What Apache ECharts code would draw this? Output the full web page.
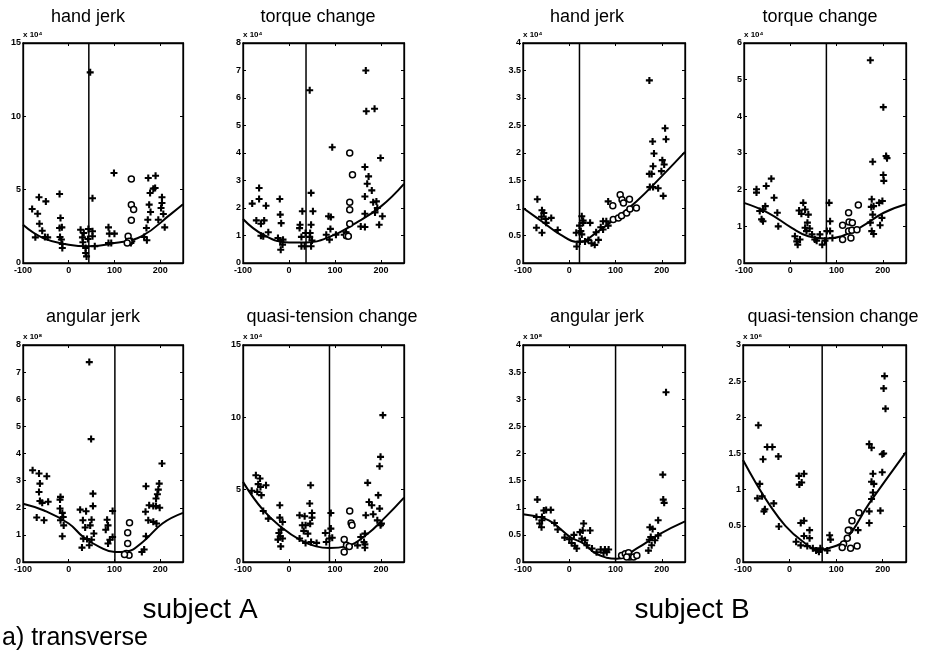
<!DOCTYPE html>
<html>
<head>
<meta charset="utf-8">
<script src="https://cdn.jsdelivr.net/npm/echarts@6/dist/echarts.min.js"></script>
<style>
html,body{margin:0;padding:0;background:#fff;}
#chart{width:928px;height:665px;}
</style>
</head>
<body>
<div id="chart"></div>
<script>
// ---------- DATA ----------
const titles = ['hand jerk','torque change','hand jerk','torque change','angular jerk','quasi-tension change','angular jerk','quasi-tension change'];
const scaleLabels = ['x 10\u2074','x 10\u2074','x 10\u2074','x 10\u2074','x 10\u2078','x 10\u2074','x 10\u2078','x 10\u2076'];
const yMax = [15, 8, 4, 6, 8, 15, 4, 3];
const yStep = [5, 1, 0.5, 1, 1, 5, 0.5, 0.5];
const xMin = -100, xMax = 250, xStep = 100;
const vLineX = [44, 37, 22, 78, 101, 88, 100, 70];
const subjectLabels = ['subject A', 'subject B'];
const caption = 'a) transverse';

// subject A, hand jerk
const aHandPlus = [[-80,3.68],[-65,4.48],[-68,3.36],[-73,1.75],[-64,2.68],[-58,2.2],[-50,4.2],[-52,1.77],[-46,1.75],
 [-20,4.7],[-18,3.07],[-20,2.39],[-15,2.43],[-19,1.77],[-16,1.6],[-14,1.3],[-14,1.02],
 [26,2.27],[30,1.75],[31,1.41],[37,1.02],[37,0.68],[42,1.64],[43,2.32],[33,2.05],[52,2.16],[52,1.82],[52,4.41],[47,13.0],[39,0.45],[57,1.14],
 [87,2.43],[89,2.0],[100,2.0],[87,1.36],[93,1.36],[99,6.14],[131,1.6],[130,1.41],[136,1.36],[138,1.48],
 [165,1.77],[171,1.55],[174,5.8],[190,5.95],[178,4.77],[185,5.07],[189,5.11],[176,3.98],[179,3.48],[173,2.95],[170,2.39],
 [196,2.95],[204,4.48],[202,3.75],[207,3.34],[210,2.43],[204,4.09]];
const aHandCircle = [[137,5.73],[137,3.98],[142,3.64],[137,2.91],[130,1.82],[132,1.48],[128,1.36]];
const aHandCurve = [[-100,2.6],[-56,1.7],[0,1.25],[44,1.14],[100,1.36],[159,1.82],[226,3.4],[250,4.0]];

// subject A, torque change
const aTorquePlus = [[-80,2.16],[-65,2.73],[-71,1.55],[-65,2.33],[-61,1.43],[-54,1.55],[-50,2.08],[-61,0.99],[-56,0.97],[-45,1.12],
 [-20,2.33],[-19,1.76],[-17,1.45],[-24,0.91],[-19,0.82],[-13,0.85],[-18,0.48],[-14,0.67],
 [24,1.39],[23,1.27],[27,0.95],[29,1.88],[36,1.09],[34,0.61],[27,0.61],[45,6.28],[48,2.55],[52,1.88],[48,1.39],[46,1.09],[45,0.95],[50,0.82],[48,0.61],
 [94,4.21],[86,1.7],[91,1.67],[90,1.24],[81,1.03],[88,0.85],[102,1.03],
 [167,7.0],[168,5.52],[186,5.61],[199,3.82],[165,3.49],[173,3.15],[170,2.88],[180,2.64],[165,2.42],[183,2.21],[190,2.24],[192,2.0],[187,1.84],
 [165,1.79],[203,1.7],[196,1.39],[165,1.31],[156,1.33],[124,1.12],[127,1.03],[120,1.03]];
const aTorqueCircle = [[132,4.0],[138,3.21],[132,2.21],[132,1.94],[132,1.43],[125,0.99],[129,0.97]];
const aTorqueCurve = [[-100,1.6],[-56,1.03],[0,0.75],[37,0.75],[88,0.95],[145,1.45],[200,2.06],[250,2.88]];

// subject B, hand jerk
const bHandPlus = [[-69,1.16],[-59,0.96],[-55,0.91],[-60,0.84],[-51,0.8],[-39,0.82],[-50,0.73],[-71,0.64],[-59,0.55],[-25,0.6],
 [173,3.32],[207,2.45],[209,2.25],[180,2.21],[183,1.99],[181,1.76],[173,1.62],[178,1.62],[201,1.87],[205,1.79],[199,1.67],
 [174,1.38],[181,1.38],[192,1.36],[203,1.22],[84,1.12],[73,0.76],[80,0.76],[84,0.68],[68,0.65],[73,0.61],[58,0.56],[45,0.73],
 [30,0.77],[30,0.73],[27,0.85],[22,0.68],[25,0.58],[27,0.52],[34,0.39],[41,0.42],[48,0.36],[55,0.33],[15,0.55],[16,0.3],[23,0.39],[63,0.42]];
const bHandCircle = [[94,1.04],[110,1.24],[114,1.15],[117,1.09],[130,1.16],[95,0.79],[106,0.82],[113,0.86],[124,0.91],[131,0.98],[145,1.0]];
const bHandCurve = [[-100,1.0],[-60,0.76],[-20,0.52],[20,0.38],[60,0.56],[95,0.78],[145,1.12],[200,1.58],[250,2.02]];

// subject B, torque change
const bTorquePlus = [[-73,2.01],[-73,1.92],[-52,2.1],[-41,2.3],[-35,1.78],[-54,1.55],[-59,1.46],[-62,1.19],[-59,1.14],[-26,1.0],[-28,1.37],[-66,1.42],
 [10,0.73],[14,0.59],[16,0.5],[21,0.64],[19,1.43],[24,1.34],[28,1.64],[32,1.46],[32,0.96],[39,1.32],[37,1.1],[35,0.87],[42,0.94],[47,0.78],
 [53,0.64],[57,0.61],[64,0.78],[69,0.5],[75,0.61],[79,0.87],[86,0.87],[84,1.64],[86,1.14],[91,0.68],
 [173,5.53],[201,4.25],[207,2.92],[209,2.86],[178,2.76],[201,2.4],[202,2.24],[176,1.74],[175,1.53],[180,1.55],[178,1.32],
 [192,1.64],[199,1.69],[198,1.23],[173,1.1],[176,0.87],[180,0.79],[194,1.03]];
const bTorqueCircle = [[147,1.58],[126,1.37],[127,1.12],[134,1.1],[113,1.03],[126,0.87],[133,0.89],[144,0.91],[113,0.64],[131,0.68]];
const bTorqueCurve = [[-100,1.64],[-48,1.37],[3,0.96],[39,0.73],[79,0.67],[111,0.73],[155,1.0],[202,1.37],[250,1.6]];

// subject A, angular jerk
const aAngPlus = [[-79,3.38],[-65,3.26],[-48,3.16],[-63,2.89],[-65,2.58],[-63,2.25],[-58,2.18],[-45,2.22],[-70,1.64],[-54,1.54],
 [-18,2.4],[-19,2.3],[-19,1.97],[-14,1.81],[-12,1.66],[-18,1.54],[-11,1.35],[-14,0.95],
 [25,1.93],[38,1.87],[31,1.54],[36,1.27],[32,0.86],[40,0.85],[29,0.53],[45,7.37],[49,4.53],[53,2.52],[53,2.06],[50,1.56],[47,1.35],[55,1.05],[50,0.82],[45,0.62],
 [84,1.56],[86,1.35],[81,1.19],[90,0.82],[86,0.68],[96,1.88],[96,0.92],
 [169,2.79],[168,1.85],[174,1.54],[169,0.95],[165,0.46],[160,0.37],[185,1.48],[176,2.09],[185,2.06],[191,2.06],
 [198,2.89],[196,2.67],[194,2.5],[191,2.34],[199,2.0],[204,3.63],[192,1.42]];
const aAngCircle = [[133,1.45],[129,1.08],[129,0.68],[126,0.31],[132,0.25],[122,0.28]];
const aAngCurve = [[-100,2.15],[-54,1.9],[0,1.42],[32,0.92],[68,0.55],[101,0.37],[126,0.39],[162,0.74],[205,1.42],[250,1.81]];

// subject A, quasi-tension change
const aQuasiPlus = [[-81,4.92],[-72,6.0],[-63,5.77],[-67,5.38],[-62,5.19],[-50,5.31],[-69,4.85],[-60,4.62],[-56,3.53],[-45,3.0],
 [-20,3.92],[-20,3.07],[-14,2.77],[-17,2.24],[-22,2.0],[-19,1.78],[-14,1.62],[-24,1.55],[-18,1.08],
 [23,3.23],[34,3.16],[29,2.54],[36,2.54],[32,2.15],[41,1.96],[23,1.62],[36,1.32],[47,5.31],[45,4.04],[50,3.39],[46,2.65],[50,3.07],[48,1.38],[60,1.32],
 [81,1.38],[79,2.0],[91,3.39],[91,2.31],[88,1.62],[94,1.68],
 [171,5.47],[174,4.15],[180,3.92],[167,3.23],[183,3.3],[204,10.15],[199,7.27],[197,6.62],[194,4.62],[197,3.69],[192,2.88],[199,2.54],[201,2.65],
 [165,1.96],[163,1.38],[165,0.99],[165,1.22],[156,1.73],[149,1.15]];
const aQuasiCircle = [[132,3.53],[135,2.7],[137,2.54],[120,1.55],[125,1.15],[120,0.69],[131,1.08]];
const aQuasiCurve = [[-100,5.54],[-56,3.58],[-13,2.31],[23,1.55],[59,1.08],[88,0.97],[124,1.08],[167,1.85],[210,3.12],[250,4.45]];

// subject B, angular jerk
const bAngPlus = [[-69,1.15],[-59,0.77],[-55,0.95],[-50,0.96],[-40,0.96],[-64,0.71],[-60,0.64],[-59,0.83],[-71,0.83],
 [-32,0.72],[-25,0.6],[-10,0.45],[0,0.42],[5,0.35],[10,0.5],[12,0.3],
 [209,3.13],[202,1.61],[203,1.15],[205,1.09],[192,0.77],[174,0.64],[180,0.61],[176,0.46],[173,0.41],[178,0.31],[171,0.21],[185,0.4],[192,0.49],
 [31,0.71],[29,0.58],[23,0.55],[45,0.58],[27,0.43],[34,0.4],[38,0.31],[16,0.25],[49,0.25],[59,0.18],[68,0.23],[77,0.23],[85,0.23],[81,0.18],[74,0.17]];
const bAngCircle = [[113,0.12],[121,0.15],[128,0.17],[131,0.09],[124,0.09],[139,0.09],[146,0.12]];
const bAngCurve = [[-100,0.88],[-53,0.8],[-32,0.7],[2,0.46],[31,0.34],[59,0.15],[103,0.06],[146,0.25],[196,0.52],[250,0.75]];

// subject B, quasi-tension change
const bQuasiPlus = [[-67,1.89],[-57,1.42],[-48,1.59],[-37,1.59],[-24,1.46],[-64,1.08],[-69,0.88],[-59,0.91],[-53,0.73],[-55,0.7],[-34,0.81],[-23,0.49],
 [20,1.19],[31,1.22],[26,1.1],[21,1.07],[24,0.54],[31,0.57],[31,0.36],[43,0.44],[43,0.33],[14,0.28],[24,0.23],[38,0.22],[50,0.19],[57,0.16],[63,0.14],[66,0.19],[81,0.16],[86,0.37],[88,0.31],
 [171,1.63],[176,1.58],[179,1.22],[176,1.11],[181,1.08],[179,0.96],[176,0.87],[171,0.7],[171,0.54],
 [204,2.57],[202,2.4],[206,2.12],[199,1.49],[202,1.5],[199,1.24],[195,0.71],[147,0.44]];
const bQuasiCircle = [[149,0.68],[134,0.57],[129,0.44],[124,0.33],[116,0.25],[113,0.2],[131,0.19],[145,0.22],[126,0.44]];
const bQuasiCurve = [[-100,1.41],[-73,1.1],[-44,0.8],[-9,0.5],[27,0.29],[63,0.17],[84,0.19],[120,0.31],[170,0.8],[213,1.19],[250,1.52]];

const plusSets = [aHandPlus, aTorquePlus, bHandPlus, bTorquePlus, aAngPlus, aQuasiPlus, bAngPlus, bQuasiPlus];
const circleSets = [aHandCircle, aTorqueCircle, bHandCircle, bTorqueCircle, aAngCircle, aQuasiCircle, bAngCircle, bQuasiCircle];
const curveSets = [aHandCurve, aTorqueCurve, bHandCurve, bTorqueCurve, aAngCurve, aQuasiCurve, bAngCurve, bQuasiCurve];

// ---------- LAYOUT ----------
const grids = [
  {left:23, top:43, width:160, height:220},
  {left:243, top:43, width:161, height:220},
  {left:523, top:43, width:162, height:220},
  {left:744, top:43, width:162, height:220},
  {left:23, top:345, width:160, height:217},
  {left:243, top:345, width:161, height:217},
  {left:523, top:345, width:162, height:217},
  {left:743, top:345, width:163, height:217}
];
const titlePos = [[88,17],[318,17],[587,17],[820,17],[93,317],[332,317],[597,317],[833,317]];

const FONT = '"Liberation Sans", Arial, Helvetica, sans-serif';
const plusPath = 'path://M3.5,0H6.5V3.5H10V6.5H6.5V10H3.5V6.5H0V3.5H3.5Z';

const option = {
  animation: false,
  backgroundColor: '#fff',
  grid: [], xAxis: [], yAxis: [], series: [], graphic: []
};

grids.forEach((g, i) => {
  option.grid.push(Object.assign({show:true, borderColor:'#000', borderWidth:1.3, backgroundColor:'transparent', outerBoundsMode:'none', containLabel:false}, g));
  const tickStyle = {show:true, inside:true, length:3, lineStyle:{color:'#000', width:1}};
  option.xAxis.push({
    type:'value', gridIndex:i, min:xMin, max:xMax, interval:xStep, position:'bottom',
    axisLine:{show:true, onZero:false, lineStyle:{color:'#000', width:1.3}},
    axisTick:tickStyle, splitLine:{show:false},
    axisLabel:{show:true, showMaxLabel:false, color:'#000', fontSize:9, fontWeight:'bold', fontFamily:FONT, margin:3}
  });
  option.xAxis.push({
    type:'value', gridIndex:i, min:xMin, max:xMax, interval:xStep, position:'top',
    axisLine:{show:true, onZero:false, lineStyle:{color:'#000', width:1.3}},
    axisTick:tickStyle, splitLine:{show:false}, axisLabel:{show:false}
  });
  option.yAxis.push({
    type:'value', gridIndex:i, min:0, max:yMax[i], interval:yStep[i], position:'left',
    name: scaleLabels[i], nameLocation:'end', nameGap:2,
    nameTextStyle:{color:'#000', fontSize:8, fontFamily:FONT, align:'left', fontWeight:'bold'},
    axisLine:{show:true, onZero:false, lineStyle:{color:'#000', width:1.3}},
    axisTick:tickStyle, splitLine:{show:false},
    axisLabel:{show:true, color:'#000', fontSize:9, fontWeight:'bold', fontFamily:FONT, margin:2}
  });
  option.yAxis.push({
    type:'value', gridIndex:i, min:0, max:yMax[i], interval:yStep[i], position:'right',
    axisLine:{show:true, onZero:false, lineStyle:{color:'#000', width:1.3}},
    axisTick:tickStyle, splitLine:{show:false}, axisLabel:{show:false}
  });
  const xi = 2*i, yi = 2*i;
  option.series.push({
    type:'line', xAxisIndex:xi, yAxisIndex:yi, data:[[vLineX[i],0],[vLineX[i],yMax[i]]],
    showSymbol:false, symbol:'none', lineStyle:{color:'#000', width:1.5}, silent:true, z:2
  });
  option.series.push({
    type:'line', xAxisIndex:xi, yAxisIndex:yi, data:curveSets[i], smooth:0.45,
    showSymbol:false, symbol:'none', lineStyle:{color:'#000', width:2}, silent:true, z:3
  });
  option.series.push({
    type:'scatter', xAxisIndex:xi, yAxisIndex:yi, data:plusSets[i],
    symbol:plusPath, symbolSize:7, itemStyle:{color:'#000', opacity:1}, silent:true, z:4
  });
  option.series.push({
    type:'scatter', xAxisIndex:xi, yAxisIndex:yi, data:circleSets[i],
    symbol:'circle', symbolSize:6, itemStyle:{color:'#fff', borderColor:'#000', borderWidth:1.5, opacity:1}, silent:true, z:5
  });
  option.graphic.push({
    type:'text', x:titlePos[i][0], y:titlePos[i][1],
    style:{text:titles[i], font:'18px ' + FONT, fill:'#000', textAlign:'center', textVerticalAlign:'middle'}
  });
});

option.graphic.push({type:'text', x:200, y:610, style:{text:subjectLabels[0], font:'28px ' + FONT, fill:'#000', textAlign:'center', textVerticalAlign:'middle'}});
option.graphic.push({type:'text', x:692, y:610, style:{text:subjectLabels[1], font:'28px ' + FONT, fill:'#000', textAlign:'center', textVerticalAlign:'middle'}});
option.graphic.push({type:'text', x:2, y:638, style:{text:caption, font:'25px ' + FONT, fill:'#000', textAlign:'left', textVerticalAlign:'middle'}});

const chart = echarts.init(document.getElementById('chart'), null, {renderer:'canvas'});
chart.setOption(option);
</script>
</body>
</html>
